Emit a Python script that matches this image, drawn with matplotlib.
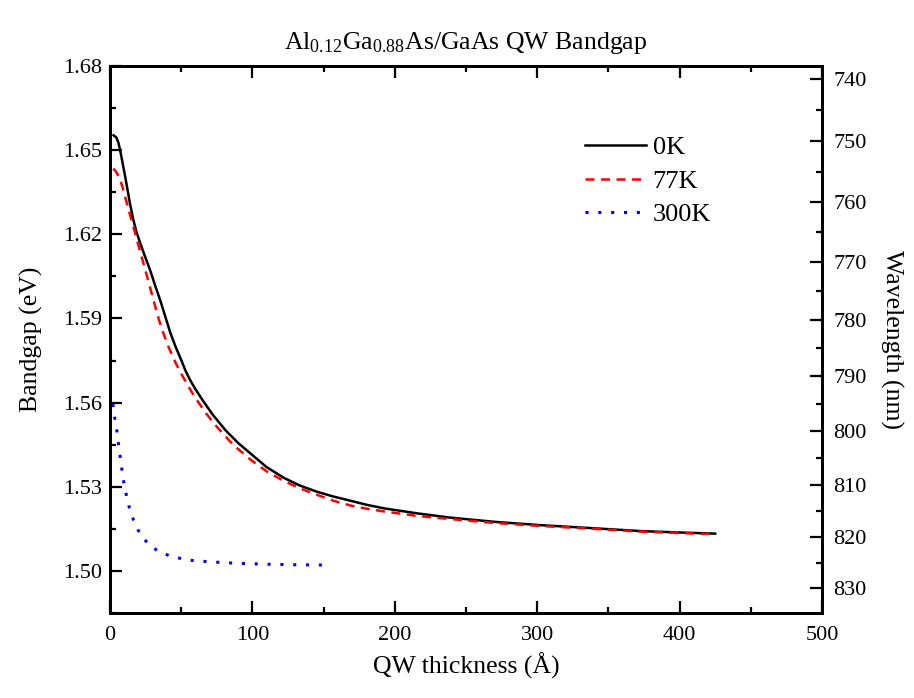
import matplotlib
matplotlib.use("Agg")
import matplotlib.pyplot as plt
from matplotlib.ticker import MultipleLocator, FixedLocator, NullFormatter

plt.rcParams['font.family'] = ['Liberation Serif', 'DejaVu Serif']
plt.rcParams['mathtext.fontset'] = 'custom'
plt.rcParams['mathtext.rm'] = 'Liberation Serif'
plt.rcParams['mathtext.it'] = 'Liberation Serif:italic'

# ---- data ----
x_0K = [2.5, 4.5, 6, 7.5, 9, 10.5, 12, 14, 16.4, 18.5, 21, 24.5, 28.2, 31.5, 35.2, 38.5,
        42.3, 46, 50, 53, 56.3, 60, 65, 72, 81, 90, 98.6, 110, 122, 133, 145.5, 157,
        169, 180, 192.5, 216, 239, 270, 303, 340, 373, 400, 425]
y_0K = [1.6553, 1.6545, 1.6525, 1.6490, 1.6450, 1.6410, 1.6368, 1.6310, 1.6251, 1.6210,
        1.6172, 1.6122, 1.6072, 1.6020, 1.5966, 1.5912, 1.5850, 1.5800, 1.5752, 1.5714,
        1.5680, 1.5648, 1.5609, 1.5558, 1.5502, 1.5456, 1.5419, 1.5370, 1.5332, 1.5305,
        1.5282, 1.5265, 1.5250, 1.5236, 1.5223, 1.5205, 1.5190, 1.5175, 1.5163, 1.5152,
        1.5142, 1.5137, 1.5133]

x_77K = [2.2, 4, 5.5, 7, 8.8, 10.6, 13.5, 16.4, 20, 23.5, 26, 28.2, 31.7, 34.5, 37.5, 41,
         45, 49, 52.8, 57, 61, 68, 75, 86, 98.6, 110, 122, 133, 145.5, 157, 169, 180,
         192.5, 216, 239, 270, 303, 340, 373, 400, 425]
y_77K = [1.6434, 1.6425, 1.6412, 1.6398, 1.6368, 1.6334, 1.6280, 1.6227, 1.6160, 1.6096,
         1.6050, 1.6009, 1.5944, 1.5893, 1.5847, 1.5800, 1.5753, 1.5712, 1.5678, 1.5641,
         1.5609, 1.5558, 1.5514, 1.5452, 1.5397, 1.5355, 1.5321, 1.5295, 1.5271, 1.5250,
         1.5233, 1.5222, 1.5212, 1.5196, 1.5185, 1.5171, 1.5160, 1.5150, 1.5140, 1.5135,
         1.5131]

x_300K = [2, 3, 4.5, 5.5, 6.5, 7.7, 8.7, 10, 11.7, 13.6, 16.4, 20, 26, 34, 42, 50, 58,
          66, 75, 90, 110, 130, 149]
y_300K = [1.5595, 1.5554, 1.5513, 1.5471, 1.5431, 1.5389, 1.5347, 1.5306, 1.5265,
          1.5225, 1.5183, 1.5143, 1.5101, 1.5069, 1.5054, 1.5044, 1.5037, 1.5034,
          1.5031, 1.5027, 1.5024, 1.5022, 1.5021]

labels = ['0K', '77K', '300K']
wl_major = [740, 750, 760, 770, 780, 790, 800, 810, 820, 830]
wl_minor = [745, 755, 765, 775, 785, 795, 805, 815, 825, 835]
HC = 1239.84

fig = plt.figure(figsize=(9.14, 6.98), dpi=100)
ax = fig.add_axes([110/914, 1 - 613/698, (822 - 110)/914, (613 - 66)/698])

ax.plot(x_0K, y_0K, color='black', lw=1.8, label=labels[0])
ax.plot(x_77K, y_77K, color='red', lw=1.8, linestyle=(0, (3.6, 2.6)), label=labels[1])
ax.plot(x_300K, y_300K, color='blue', lw=2.2, linestyle=(0, (1, 3.2)), label=labels[2])

ax.set_xlim(0, 500)
ax.set_ylim(1.485, 1.68)
ax.xaxis.set_major_locator(MultipleLocator(100))
ax.xaxis.set_minor_locator(MultipleLocator(50))
ax.set_yticks([1.50, 1.53, 1.56, 1.59, 1.62, 1.65, 1.68])
ax.set_yticklabels(['1.50', '1.53', '1.56', '1.59', '1.62', '1.65', '1.68'])
ax.yaxis.set_minor_locator(FixedLocator([1.485, 1.515, 1.545, 1.575, 1.605, 1.635, 1.665]))

ax.tick_params(which='both', direction='in', top=True, right=False, width=1.6,
               labelsize=16)
ax.tick_params(which='major', length=8.5)
ax.tick_params(which='minor', length=4.5)
ax.tick_params(axis='x', pad=9)
ax.tick_params(axis='y', pad=6)
for s in ax.spines.values():
    s.set_linewidth(2)

ax2 = ax.twinx()
ax2.set_ylim(ax.get_ylim())
ax2.set_yticks([HC / w for w in wl_major])
ax2.set_yticklabels([str(w) for w in wl_major])
ax2.yaxis.set_minor_locator(FixedLocator([HC / w for w in wl_minor]))
ax2.yaxis.set_minor_formatter(NullFormatter())
ax2.tick_params(which='both', direction='in', width=1.6, labelsize=16, pad=8)
ax2.tick_params(which='major', length=8.5)
ax2.tick_params(which='minor', length=4.5)
for s in ax2.spines.values():
    s.set_linewidth(2)

ax.set_xlabel('QW thickness (Å)', fontsize=18.5, labelpad=6)
ax.set_ylabel('Bandgap (eV)', fontsize=18.5, labelpad=14)
ax2.set_ylabel('Wavelength (nm)', fontsize=18.5, rotation=-90, labelpad=26)
ax.set_title(r'Al$_{0.12}$Ga$_{0.88}$As/GaAs QW Bandgap', fontsize=18.5, pad=12)

ax.legend(loc='upper left', bbox_to_anchor=(0.667, 0.872), frameon=False,
          fontsize=19, handlelength=2.3, labelspacing=0.38, handletextpad=0.27,
          borderpad=0, borderaxespad=0)

fig.savefig('out.png', dpi=100)
